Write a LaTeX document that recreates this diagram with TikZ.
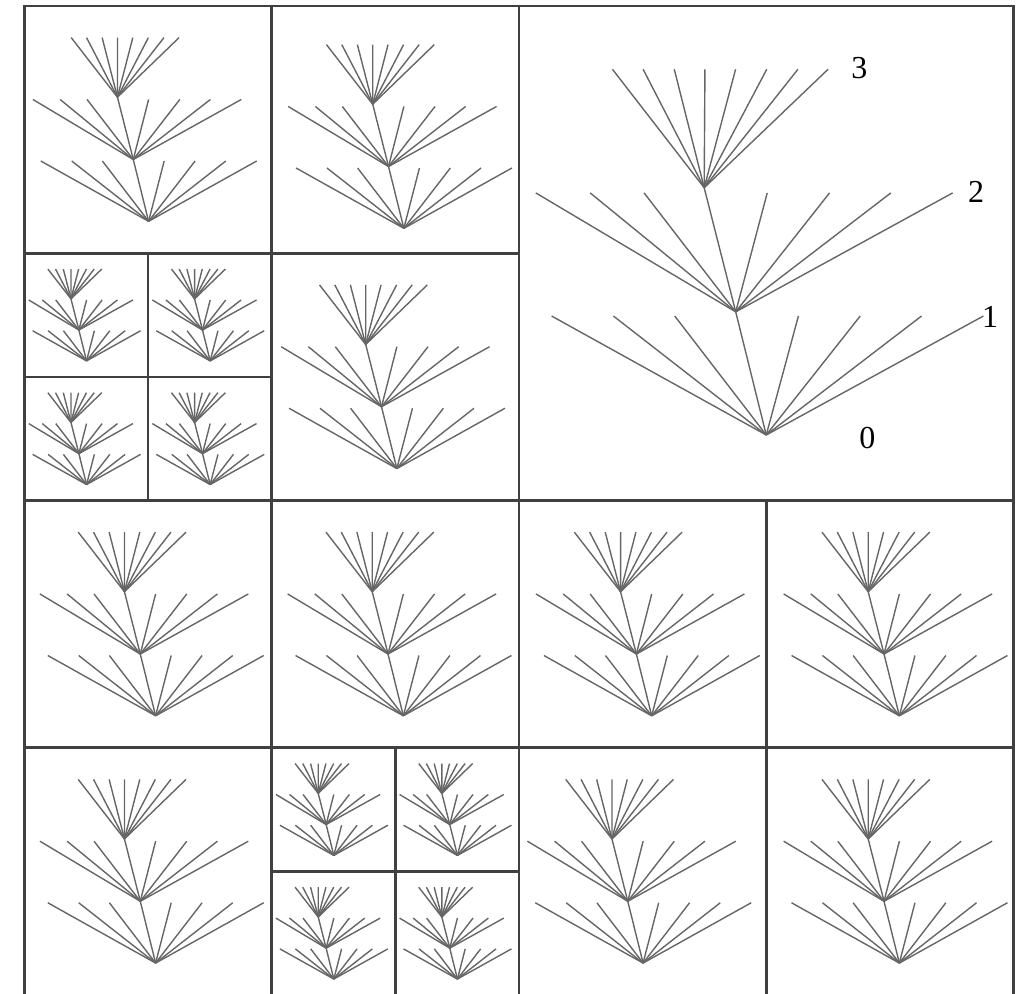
\documentclass[tikz,border=0pt]{standalone}
\usepackage{fontspec}
\setmainfont{Liberation Serif}
\tikzset{
  twig/.style={draw=black!60, line width=0.7pt},
  frame/.style={draw=black!75, line width=1.3pt},
  lbl/.style={font=\fontsize{16}{16}\selectfont, inner sep=0pt, text=black}
}
% #1,#2: top-left corner of the box (px), #3: side of the box (px)
\newcommand{\fan}[3]{%
  \begin{scope}[shift={(#1,#2)}, scale=#3]
    \coordinate (r) at (0.502,0.871);
    \coordinate (a) at (0.440,0.621);
    \coordinate (b) at (0.376,0.369);
    \foreach \t in {0.066,0.191,0.315,0.565,0.690,0.814,0.939}
      \draw[twig] (r) -- (\t,0.627);
    \draw[twig] (r) -- (a);
    \foreach \t in {0.034,0.144,0.253,0.502,0.628,0.752,0.877}
      \draw[twig] (a) -- (\t,0.378);
    \draw[twig] (a) -- (b);
    \foreach \t in {0.189,0.251,0.314,0.376,0.438,0.501,0.564,0.625}
      \draw[twig] (b) -- (\t,0.128);
  \end{scope}}
\begin{document}
\begin{tikzpicture}[x=0.5pt, y=-0.5pt]
  \useasboundingbox (0,0) rectangle (1017,994);
  % trees
  \fan{519}{6}{494.5}
  \fan{24.5}{6}{247.25}
  \fan{271.75+8}{6+7}{247.25}
  \fan{271.75+1}{253.25}{247.25}
  \fan{24.5}{253.25}{123.625}
  \fan{148.125}{253.25}{123.625}
  \fan{24.5}{376.875}{123.625}
  \fan{148.125}{376.875}{123.625}
  \fan{24.5+7}{500.5}{247.25}
  \fan{271.75+7.5}{500.5}{247.25}
  \fan{519+8.6}{500.5}{247.25}
  \fan{766.25+9}{500.5}{247.25}
  \fan{24.5+7}{747.75}{247.25}
  \fan{271.75}{747.75}{123.625}
  \fan{395.375}{747.75}{123.625}
  \fan{271.75}{871.375}{123.625}
  \fan{395.375}{871.375}{123.625}
  \fan{519}{747.75}{247.25}
  \fan{766.25+9}{747.75}{247.25}
  % frames
  \draw[frame] (24.5,6) rectangle (1013.5,995);
  \draw[frame] (271.75,6) -- (271.75,995);
  \draw[frame] (519,6) -- (519,995);
  \draw[frame] (766.25,500.5) -- (766.25,995);
  \draw[frame] (24.5,253.25) -- (519,253.25);
  \draw[frame] (24.5,500.5) -- (1013.5,500.5);
  \draw[frame] (24.5,747.75) -- (1013.5,747.75);
  \draw[frame] (148.125,253.25) -- (148.125,500.5);
  \draw[frame] (24.5,376.875) -- (271.75,376.875);
  \draw[frame] (395.375,747.75) -- (395.375,995);
  \draw[frame] (271.75,871.375) -- (519,871.375);
  % level labels
  \node[lbl] (l3) at (859.3,68) {3};
  \node[lbl] (l2) at (976,191.7) {2};
  \node[lbl] (l1) at (990,316.7) {1};
  \node[lbl] (l0) at (867.3,438.3) {0};
\end{tikzpicture}
\end{document}
